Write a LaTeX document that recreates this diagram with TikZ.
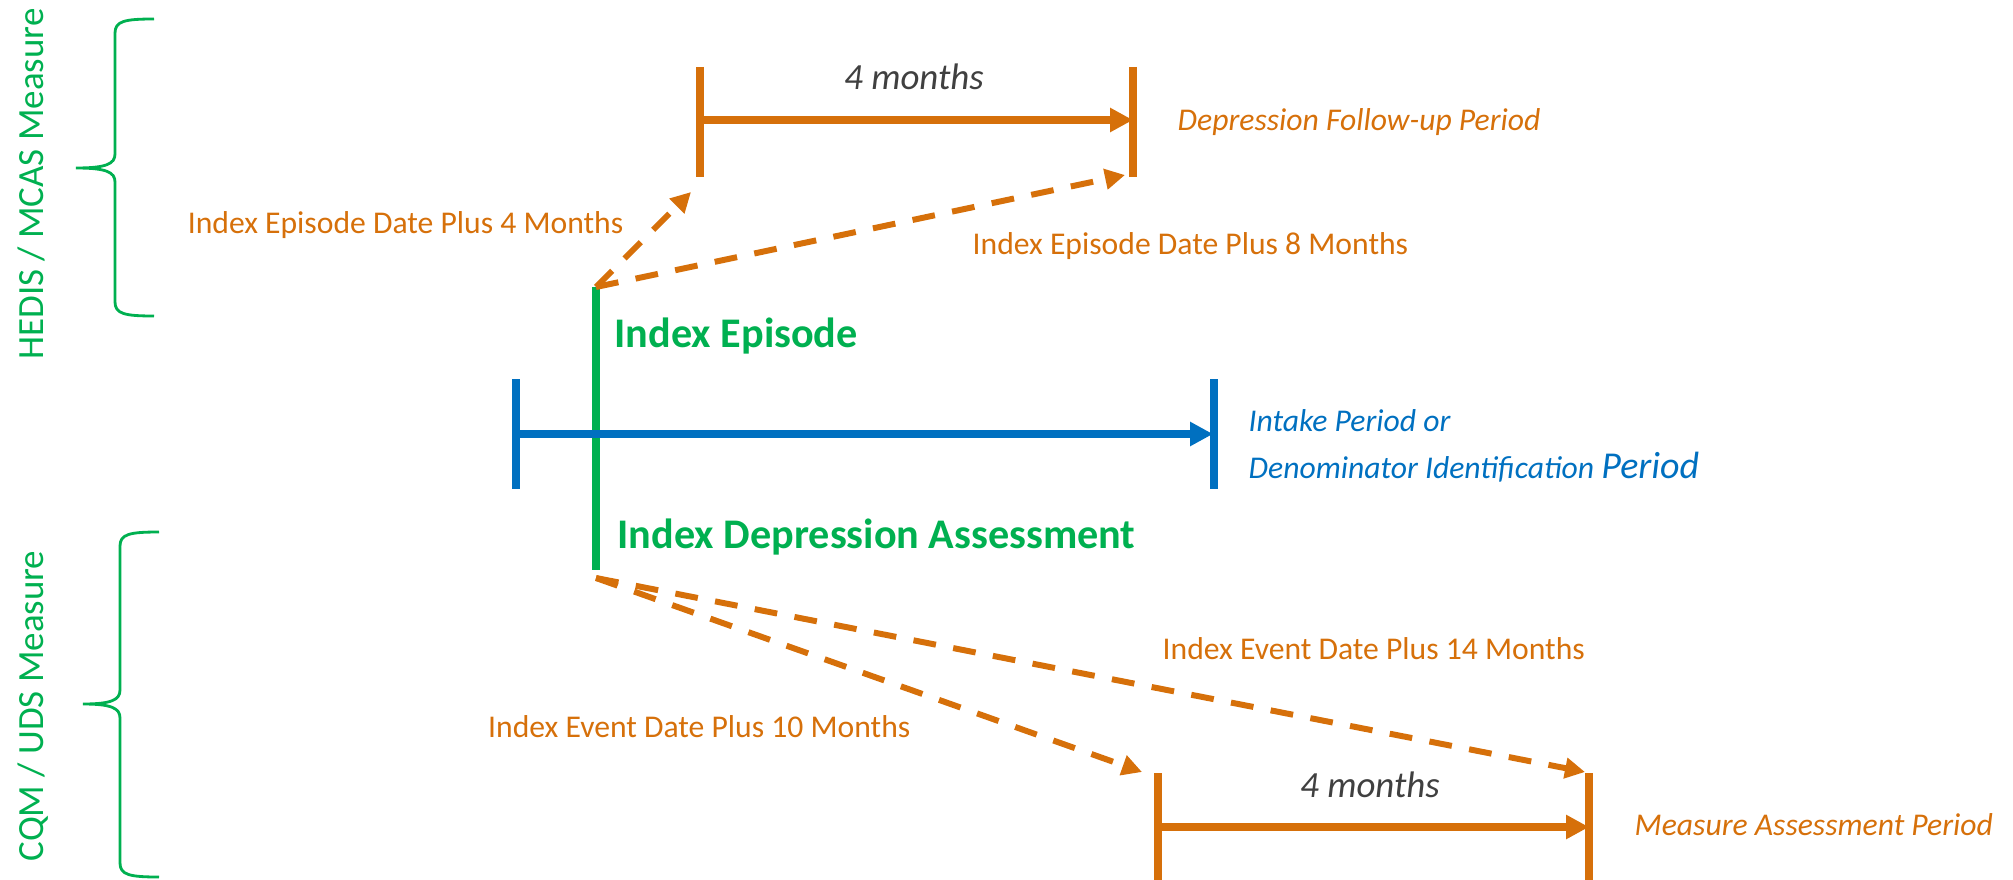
\documentclass[tikz,border=0pt]{standalone}
\usepackage{fontspec}
\setmainfont{Carlito}
\usetikzlibrary{positioning, arrows.meta, calc}
\usepackage{xcolor}
\definecolor{measureGreen}{HTML}{00B050}
\definecolor{windowOrange}{HTML}{D6700A}
\definecolor{intakeBlue}{HTML}{0070C0}
\definecolor{spanGray}{HTML}{404040}

\begin{document}
\begin{tikzpicture}[
    x=0.01cm, y=-0.01cm,
    >={Triangle[length=0.23cm, width=0.23cm]},
    windowtick/.style={line width=2.4pt, windowOrange},
    windowspan/.style={->, line width=2.3pt, windowOrange},
    intaketick/.style={line width=2.2pt, intakeBlue},
    intakespan/.style={->, line width=2.3pt, intakeBlue},
    offset/.style={-{Triangle[length=0.2cm, width=0.2cm]}, line width=1.7pt,
        windowOrange, dash pattern=on 6.5pt off 5pt},
    indexline/.style={line width=2.2pt, measureGreen},
    measurebrace/.style={line width=0.8pt, measureGreen},
    measurelabel/.style={font=\fontsize{10.5}{12}\selectfont, text=measureGreen,
        rotate=90, anchor=base, inner sep=0pt},
    offsetlabel/.style={font=\fontsize{9}{11}\selectfont, text=windowOrange, inner sep=0pt},
    windowlabel/.style={font=\fontsize{9}{11}\selectfont\itshape, text=windowOrange,
        anchor=base west, inner sep=0pt},
    monthslabel/.style={font=\fontsize{10.5}{12}\selectfont\itshape, text=spanGray,
        anchor=base, inner sep=0pt},
    eventlabel/.style={font=\fontsize{12}{14}\selectfont\bfseries, text=measureGreen,
        anchor=base west, inner sep=0pt},
]

\useasboundingbox (0,0) rectangle (2013,879);

% ============================================
% Measure braces (left margin)
% ============================================
\draw[measurebrace] (154,19) .. controls (125,19) and (115,21) .. (115,33)
    -- (115,154) .. controls (115,164) and (106,168) .. (76,168)
    .. controls (106,168) and (115,172) .. (115,182)
    -- (115,302) .. controls (115,314) and (125,316) .. (154,316);
\node[measurelabel] (hedis) at (43,184) {HEDIS / MCAS Measure};

\draw[measurebrace] (159,532) .. controls (130,532) and (120,534) .. (120,546)
    -- (120,690) .. controls (120,700) and (111,704) .. (83,704)
    .. controls (111,704) and (120,708) .. (120,718)
    -- (120,863) .. controls (120,875) and (130,877) .. (159,877);
\node[measurelabel] (cqm) at (43,706) {CQM / UDS Measure};

% ============================================
% Index event marker and intake period
% ============================================
\coordinate (idxTop) at (596,287);
\coordinate (idxBot) at (596,570);
\draw[indexline] (idxTop) -- (idxBot);

\node[eventlabel] (episode) at (614,347) {Index Episode};
\node[eventlabel] (assessment) at (617,548) {Index Depression Assessment};

\coordinate (inTickTop) at (516,379);
\coordinate (inTickBot) at (516,489);
\coordinate (inEndTop) at (1214,379);
\coordinate (inEndBot) at (1214,489);
\coordinate (inStart) at (516,434);
\coordinate (inEnd) at (1213,434);

\draw[intaketick] (inTickTop) -- (inTickBot);
\draw[intaketick] (inEndTop) -- (inEndBot);
\draw[intakespan] (inStart) -- (inEnd);

\node[windowlabel, text=intakeBlue] (intake) at (1248,431) {Intake Period or};
\node[windowlabel, text=intakeBlue] (denom) at (1248,478)
    {Denominator Identification {\fontsize{10.8}{12}\selectfont Period}};

% ============================================
% Depression follow-up period (HEDIS / MCAS)
% ============================================
\coordinate (fuTickTop) at (700,67);
\coordinate (fuTickBot) at (700,177);
\coordinate (fuEndTop) at (1133,67);
\coordinate (fuEndBot) at (1133,177);
\coordinate (fuStart) at (700,120);
\coordinate (fuEnd) at (1133,120);

\draw[windowtick] (fuTickTop) -- (fuTickBot);
\draw[windowtick] (fuEndTop) -- (fuEndBot);
\draw[windowspan] (fuStart) -- (fuEnd);

\node[monthslabel] (fuMonths) at (914,90) {4 months};
\node[windowlabel] (followup) at (1177,131) {Depression Follow-up Period};

\coordinate (fuHitStart) at (691,192);
\coordinate (fuHitEnd) at (1125,175);
\draw[offset] (idxTop) -- (fuHitStart);
\draw[offset] (idxTop) -- (fuHitEnd);

\node[offsetlabel, anchor=base east] (plusFour) at (624,233) {Index Episode Date Plus 4 Months};
\node[offsetlabel, anchor=base west] (plusEight) at (972,254) {Index Episode Date Plus 8 Months};

% ============================================
% Measure assessment period (CQM / UDS)
% ============================================
\coordinate (maTickTop) at (1158,773);
\coordinate (maTickBot) at (1158,885);
\coordinate (maEndTop) at (1589,773);
\coordinate (maEndBot) at (1589,885);
\coordinate (maStart) at (1158,827);
\coordinate (maEnd) at (1589,827);

\draw[windowtick] (maTickTop) -- (maTickBot);
\draw[windowtick] (maEndTop) -- (maEndBot);
\draw[windowspan] (maStart) -- (maEnd);

\node[monthslabel] (maMonths) at (1370,797) {4 months};
\node[windowlabel] (assessPeriod) at (1634,835) {Measure Assessment Period};

\coordinate (idxFoot) at (596,578);
\coordinate (maHitStart) at (1142,772);
\coordinate (maHitEnd) at (1585,772);
\draw[offset] (idxFoot) -- (maHitStart);
\draw[offset] (idxFoot) -- (maHitEnd);

\node[offsetlabel, anchor=base east] (plusTen) at (911,737) {Index Event Date Plus 10 Months};
\node[offsetlabel, anchor=base west] (plusFourteen) at (1162,659) {Index Event Date Plus 14 Months};

\end{tikzpicture}
\end{document}
